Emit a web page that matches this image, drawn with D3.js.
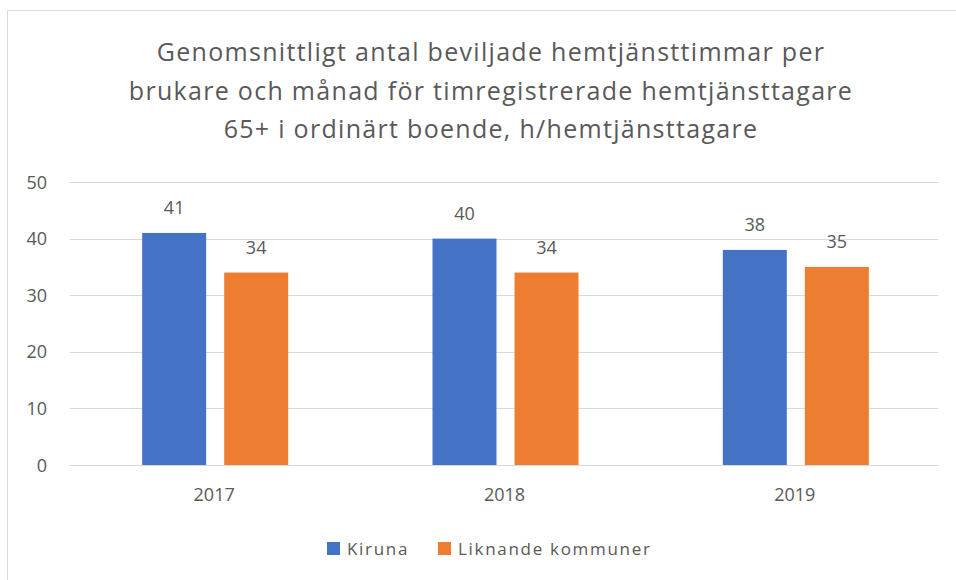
<!DOCTYPE html>
<html>
<head>
<meta charset="utf-8">
<script src="https://cdn.jsdelivr.net/npm/d3@7"></script>
<style>
  body { margin: 0; background: #fff; }
  text { font-family: "Open Sans", "Noto Sans", sans-serif; fill: #595959; }
</style>
</head>
<body>
<div id="chart"></div>
<script>
var width = 956;
var height = 580;

var years = ["2017", "2018", "2019"];
var seriesNames = ["Kiruna", "Liknande kommuner"];
var kiruna = [41, 40, 38];
var liknande = [34, 34, 35];
var yTicks = [0, 10, 20, 30, 40, 50];
var titleLines = [
  "Genomsnittligt antal beviljade hemtjänsttimmar per",
  "brukare och månad för timregistrerade hemtjänsttagare",
  "65+ i ordinärt boende, h/hemtjänsttagare"
];
var colors = ["#4472c4", "#ed7d31"];

var svg = d3.select("#chart")
  .append("svg")
  .attr("width", width)
  .attr("height", height);

// chart border
svg.append("path")
  .attr("d", "M7.5,580 L7.5,10.5 L956,10.5")
  .attr("fill", "none")
  .attr("stroke", "#d9d9d9")
  .attr("stroke-width", 1);

svg.selectAll(".title")
  .data(titleLines)
  .enter().append("text")
  .attr("class", "title")
  .attr("x", 491)
  .attr("y", (d, i) => 61 + i * 38.5)
  .attr("text-anchor", "middle")
  .style("font-size", "25px")
  .style("letter-spacing", "1.3px")
  .text(d => d);

var x0 = d3.scaleBand()
  .domain(years)
  .range([67, 938]);

var x1 = d3.scaleBand()
  .domain(seriesNames)
  .range([0, 146])
  .paddingInner(0.22);

var y = d3.scaleLinear()
  .domain([0, 50])
  .range([465, 182]);

// grid
svg.selectAll(".grid")
  .data(yTicks)
  .enter().append("line")
  .attr("x1", 70)
  .attr("x2", 938)
  .attr("y1", d => Math.round(y(d)) + 0.5)
  .attr("y2", d => Math.round(y(d)) + 0.5)
  .attr("stroke", "#d9d9d9")
  .attr("stroke-width", 1);

svg.selectAll(".ytick")
  .data(yTicks)
  .enter().append("text")
  .attr("x", 47)
  .attr("y", d => y(d) + 6.5)
  .attr("text-anchor", "end")
  .style("font-size", "18px")
  .text(d => d);

var data = years.map((yr, i) => ({ year: yr, values: [kiruna[i], liknande[i]] }));

var groups = svg.selectAll(".grp")
  .data(data)
  .enter().append("g")
  .attr("transform", d => "translate(" + (x0(d.year) + x0.bandwidth() / 2 - 70) + ",0)");

groups.selectAll("rect")
  .data(d => d.values.map((v, i) => ({ name: seriesNames[i], value: v, idx: i })))
  .enter().append("rect")
  .attr("x", d => x1(d.name))
  .attr("y", d => y(d.value))
  .attr("width", x1.bandwidth())
  .attr("height", d => y(0) - y(d.value))
  .attr("fill", d => colors[d.idx]);

groups.selectAll(".lbl")
  .data(d => d.values.map((v, i) => ({ name: seriesNames[i], value: v })))
  .enter().append("text")
  .attr("x", d => x1(d.name) + x1.bandwidth() / 2)
  .attr("y", d => y(d.value) - 19)
  .attr("text-anchor", "middle")
  .style("font-size", "18px")
  .text(d => d.value);

svg.selectAll(".xlbl")
  .data(years)
  .enter().append("text")
  .attr("x", d => x0(d) + x0.bandwidth() / 2 + 2)
  .attr("y", 501)
  .attr("text-anchor", "middle")
  .style("font-size", "18px")
  .text(d => d);

// legend
var legendX = [327, 438];
var leg = svg.selectAll(".leg")
  .data(seriesNames)
  .enter().append("g")
  .attr("transform", (d, i) => "translate(" + legendX[i] + ",542)");
leg.append("rect")
  .attr("width", 13)
  .attr("height", 13)
  .attr("fill", (d, i) => colors[i]);
leg.append("text")
  .attr("x", 20)
  .attr("y", 13)
  .style("font-size", "17px")
  .style("letter-spacing", "1.7px")
  .text(d => d);
</script>
</body>
</html>
